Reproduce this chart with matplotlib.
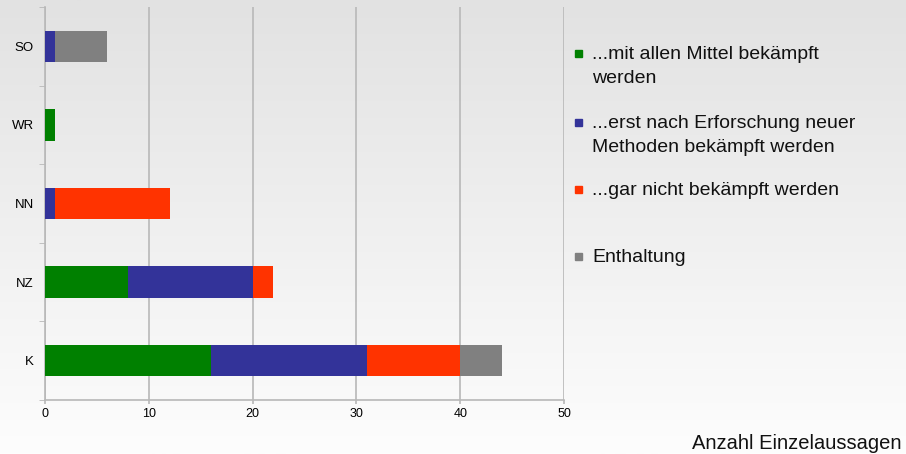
import matplotlib.pyplot as plt
import matplotlib.patches as mpatches
import numpy as np

plt.rcParams['font.family'] = ['Liberation Sans', 'DejaVu Sans']

categories = ["K", "NZ", "NN", "WR", "SO"]
mit_allen = [16, 8, 0, 1, 0]
erst_nach = [15, 12, 1, 0, 1]
gar_nicht = [9, 2, 11, 0, 0]
enthaltung = [4, 0, 0, 0, 5]

series = [
    ("...mit allen Mittel bekämpft\nwerden", mit_allen, "#008000"),
    ("...erst nach Erforschung neuer\nMethoden bekämpft werden", erst_nach, "#333399"),
    ("...gar nicht bekämpft werden", gar_nicht, "#ff3300"),
    ("Enthaltung", enthaltung, "#808080"),
]
x_ticks = [0, 10, 20, 30, 40, 50]
x_label = "Anzahl Einzelaussagen"

W, H = 906, 454
fig = plt.figure(figsize=(W / 100, H / 100), dpi=100)

# background gradient, gray at top to white at bottom
bg = fig.add_axes([0, 0, 1, 1], zorder=-10)
grad = np.linspace(0, 1, 256).reshape(-1, 1)
cmap = plt.matplotlib.colors.LinearSegmentedColormap.from_list("bg", ["#e2e2e2", "#fdfdfd"])
bg.imshow(grad, aspect="auto", cmap=cmap, extent=[0, 1, 0, 1], origin="upper")
bg.axis("off")

ax = fig.add_axes([45 / W, 54 / H, 519 / W, 393 / H])
ax.patch.set_alpha(0)

y = np.arange(len(categories))
left = np.zeros(len(categories))
for name, vals, col in series:
    ax.barh(y, vals, left=left, height=0.4, color=col, zorder=3)
    left += np.array(vals)

ax.set_xlim(0, 50)
ax.set_ylim(-0.5, len(categories) - 0.5)
ax.set_xticks(x_ticks)
ax.set_xticklabels([str(t) for t in x_ticks], fontsize=9)
ax.set_yticks(y)
ax.set_yticklabels(categories, fontsize=9.5)
ax.tick_params(axis="y", length=0, pad=8)
ax.tick_params(axis="x", length=3, color="#b8b8b8", width=1.2, pad=3)
ax.set_yticks(np.arange(-0.5, len(categories)), minor=True)
ax.tick_params(axis="y", which="minor", length=4, color="#b8b8b8")
ax.grid(axis="x", color="#b8b8b8", linewidth=1.2, zorder=0)
for s in ["top", "right"]:
    ax.spines[s].set_visible(False)
for s in ["left", "bottom"]:
    ax.spines[s].set_color("#b8b8b8")
    ax.spines[s].set_linewidth(1.2)

# legend, placed by hand (baseline of first line in pixels from top)
baselines = [59, 128, 195, 262]
for (name, vals, col), b in zip(series, baselines):
    cy = b - 6
    fig.patches.append(mpatches.Rectangle((575 / W, (H - cy - 3.5) / H), 7 / W, 7 / H,
                                          transform=fig.transFigure, color=col))
    for i, line in enumerate(name.split("\n")):
        fig.text(592 / W, (H - b - 24 * i) / H, line, fontsize=14, va="baseline",
                 ha="left", color="#111111")

fig.text(902 / W, (H - 449) / H, x_label, fontsize=14.5, ha="right", va="baseline", color="#111111")

fig.savefig("out.png", dpi=100)
